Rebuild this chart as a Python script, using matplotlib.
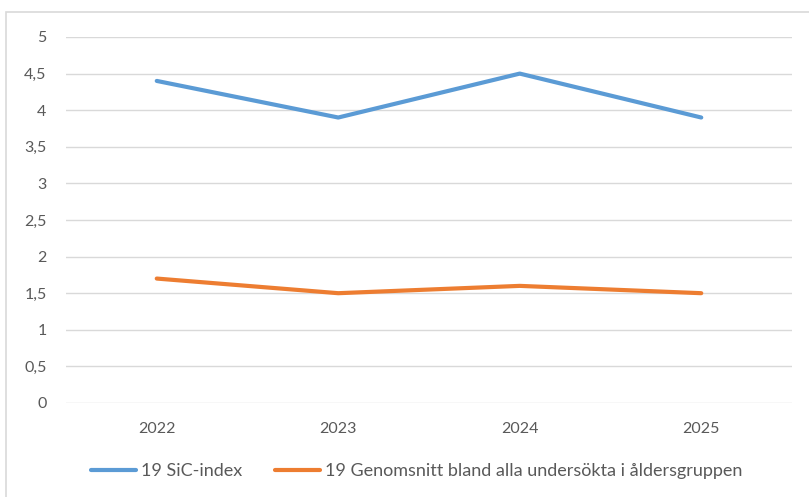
import matplotlib
matplotlib.use('Agg')
from matplotlib import pyplot as plt
from matplotlib.patches import Rectangle

years = ['2022', '2023', '2024', '2025']
sic_index = [4.4, 3.9, 4.5, 3.9]
genomsnitt = [1.7, 1.5, 1.6, 1.5]
yticks = [0, 0.5, 1, 1.5, 2, 2.5, 3, 3.5, 4, 4.5, 5]

plt.rcParams['font.family'] = ['Lato', 'DejaVu Sans']
grey = '#595959'

fig = plt.figure(figsize=(8.09, 4.97), dpi=100)
W, H = 809, 497
ax = fig.add_axes([66 / W, 1 - 403 / H, (792 - 66) / W, (403 - 37) / H])

x = list(range(len(years)))
l1, = ax.plot(x, sic_index, color='#5B9BD5', lw=3, solid_capstyle='round',
              label='19 SiC-index')
l2, = ax.plot(x, genomsnitt, color='#ED7D31', lw=3, solid_capstyle='round',
              label='19 Genomsnitt bland alla undersökta i åldersgruppen')

ax.set_xlim(-0.5, 3.5)
ax.set_ylim(0, 5)
ax.set_xticks(x)
ax.set_xticklabels(years)
ax.set_yticks(yticks)
ax.set_yticklabels([('%g' % v).replace('.', ',') for v in yticks])
ax.tick_params(axis='both', length=0, labelsize=11.5, colors=grey)
ax.tick_params(axis='x', pad=14)
ax.tick_params(axis='y', pad=14)
ax.grid(axis='y', color='#D9D9D9', lw=1)
ax.set_axisbelow(True)
for s in ax.spines.values():
    s.set_visible(False)

leg = fig.legend(handles=[l1, l2], loc='center', bbox_to_anchor=(417 / W, 1 - 471 / H),
                 ncol=2, frameon=False, fontsize=13, handlelength=2.5,
                 handletextpad=0.28, columnspacing=1.8)
for t in leg.get_texts():
    t.set_color(grey)

fig.patches.append(Rectangle((6 / W, -0.1), 1.0, 1 - 12 / H + 0.1, transform=fig.transFigure,
                             fill=False, edgecolor='#D9D9D9', lw=1.2))

fig.savefig('out.png', dpi=100)
